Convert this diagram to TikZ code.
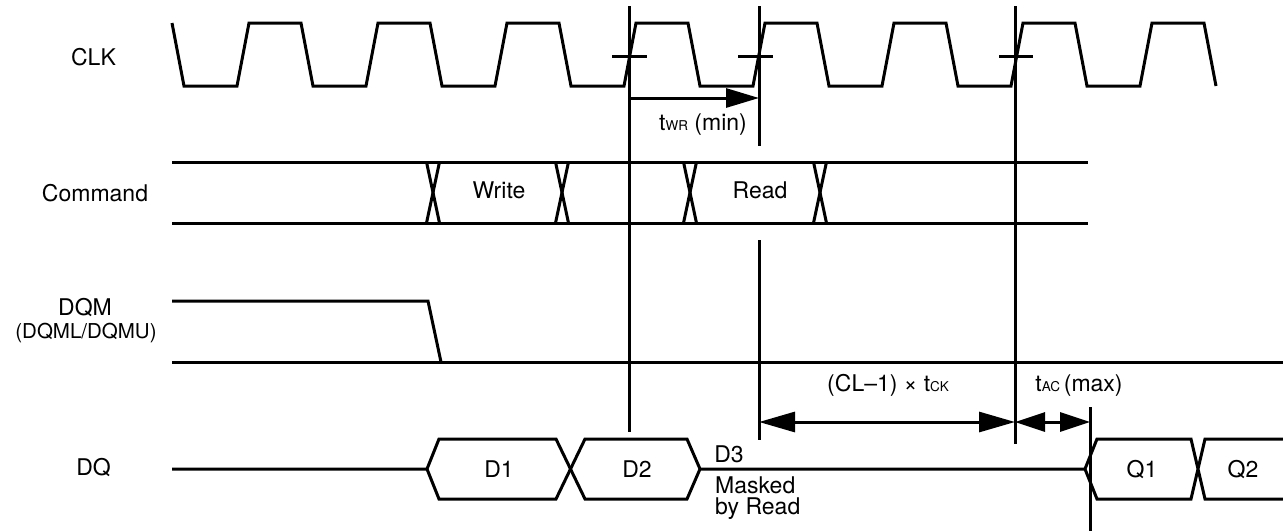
\documentclass[tikz,border=0pt]{standalone}
\usepackage{fontspec}
\setmainfont{TeX Gyre Heros}
\usetikzlibrary{arrows.meta}
\begin{document}
\begin{tikzpicture}[x=1pt,y=-1pt,
  sig/.style={line width=3pt, line join=miter, line cap=butt},
  lab/.style={inner sep=0pt, anchor=base, font=\fontsize{23}{25}\selectfont},
  labsmall/.style={inner sep=0pt, anchor=base, font=\fontsize{20.5}{22}\selectfont},
  tipA/.style={-{Triangle[length=33pt,width=19pt]}},
  tipB/.style={{Triangle[length=36pt,width=20pt]}-{Triangle[length=36pt,width=20pt]}},
  tipC/.style={{Triangle[length=30pt,width=19pt]}-{Triangle[length=30pt,width=19pt]}}]
\useasboundingbox (0,0) rectangle (1283,531);
\newcommand{\sub}[1]{{\fontsize{13.5}{14}\selectfont #1}}

% ---- signal labels
\node[lab] (lclk) at (93.5,65) {CLK};
\node[lab] (lcmd) at (95,201) {Command};
\node[lab] (ldqm) at (85,315) {DQM};
\node[labsmall] (ldqm2) at (86,338) {(DQML/DQMU)};
\node[lab] (ldq) at (93.5,475) {DQ};

% ---- CLK
\draw[sig] (172,23) -- (184,86)
  \foreach \k in {0,...,7} {
    -- ({237+129*\k},86) -- ({249+129*\k},23) -- ({301+129*\k},23) -- ({313+129*\k},86)
  };
% crossing ticks
\draw[sig] (612,56) -- (647,56);
\draw[sig] (738,56) -- (773,56);
\draw[sig] (999,56) -- (1033,56);

% ---- vertical reference lines
\draw[sig] (629,6) -- (629,432);
\draw[sig] (759,6) -- (759,146);
\draw[sig] (759,240) -- (759,440);
\draw[sig] (1015,6) -- (1015,444);
\draw[sig] (1090,407) -- (1090,531);

% ---- tWR
\coordinate (wrA) at (629,98);
\coordinate (wrB) at (759,98);
\draw[sig,tipA] (wrA) -- (wrB);
\node[lab] (twr) at (703,130) {t\sub{WR} (min)};

% ---- Command
\draw[sig] (172,162) -- (1088,162);
\draw[sig] (172,223) -- (1088,223);
\foreach \c in {433,562,690,820} {
  \draw[sig] ({\c-6.5},162) -- ({\c+6.5},223);
  \draw[sig] ({\c+6.5},162) -- ({\c-6.5},223);
}
\node[lab] (wr) at (499,198) {Write};
\node[lab] (rd) at (760,198) {Read};

% ---- DQM
\draw[sig] (172,301) -- (428,301) -- (441,362);
\draw[sig] (172,362) -- (1283,362);

% ---- DQ
\draw[sig] (172,469) -- (427,469) -- (439,439) -- (556,439) -- (585,499) -- (687,499) -- (700,469) -- (1085,469);
\draw[sig] (427,469) -- (439,499) -- (556,499) -- (585,439) -- (687,439) -- (700,469);
\draw[sig] (1283,439) -- (1205,439) -- (1191,499) -- (1097,499) -- (1085,469) -- (1097,439) -- (1191,439) -- (1205,499) -- (1283,499);
\node[lab] (d1) at (499,477) {D1};
\node[lab] (d2) at (637,477) {D2};
\node[lab] (d3) at (729,462) {D3};
\node[lab, anchor=base west] (m1) at (715,493) {Masked};
\node[lab, anchor=base west] (m2) at (715,514) {by Read};
\node[lab] (q1) at (1142,477) {Q1};
\node[lab] (q2) at (1243,477) {Q2};

% ---- CL-1 and tAC
\coordinate (clA) at (759,422);
\coordinate (clB) at (1015,422);
\coordinate (acB) at (1090,422);
\draw[sig,tipB] (clA) -- (clB);
\draw[sig,tipC] (clB) -- (acB);
\node[lab] (tcl) at (888,391) {(CL–1) × t\sub{CK}};
\node[lab] (tac) at (1079,391) {t\sub{AC}\,(max)};
\end{tikzpicture}
\end{document}
